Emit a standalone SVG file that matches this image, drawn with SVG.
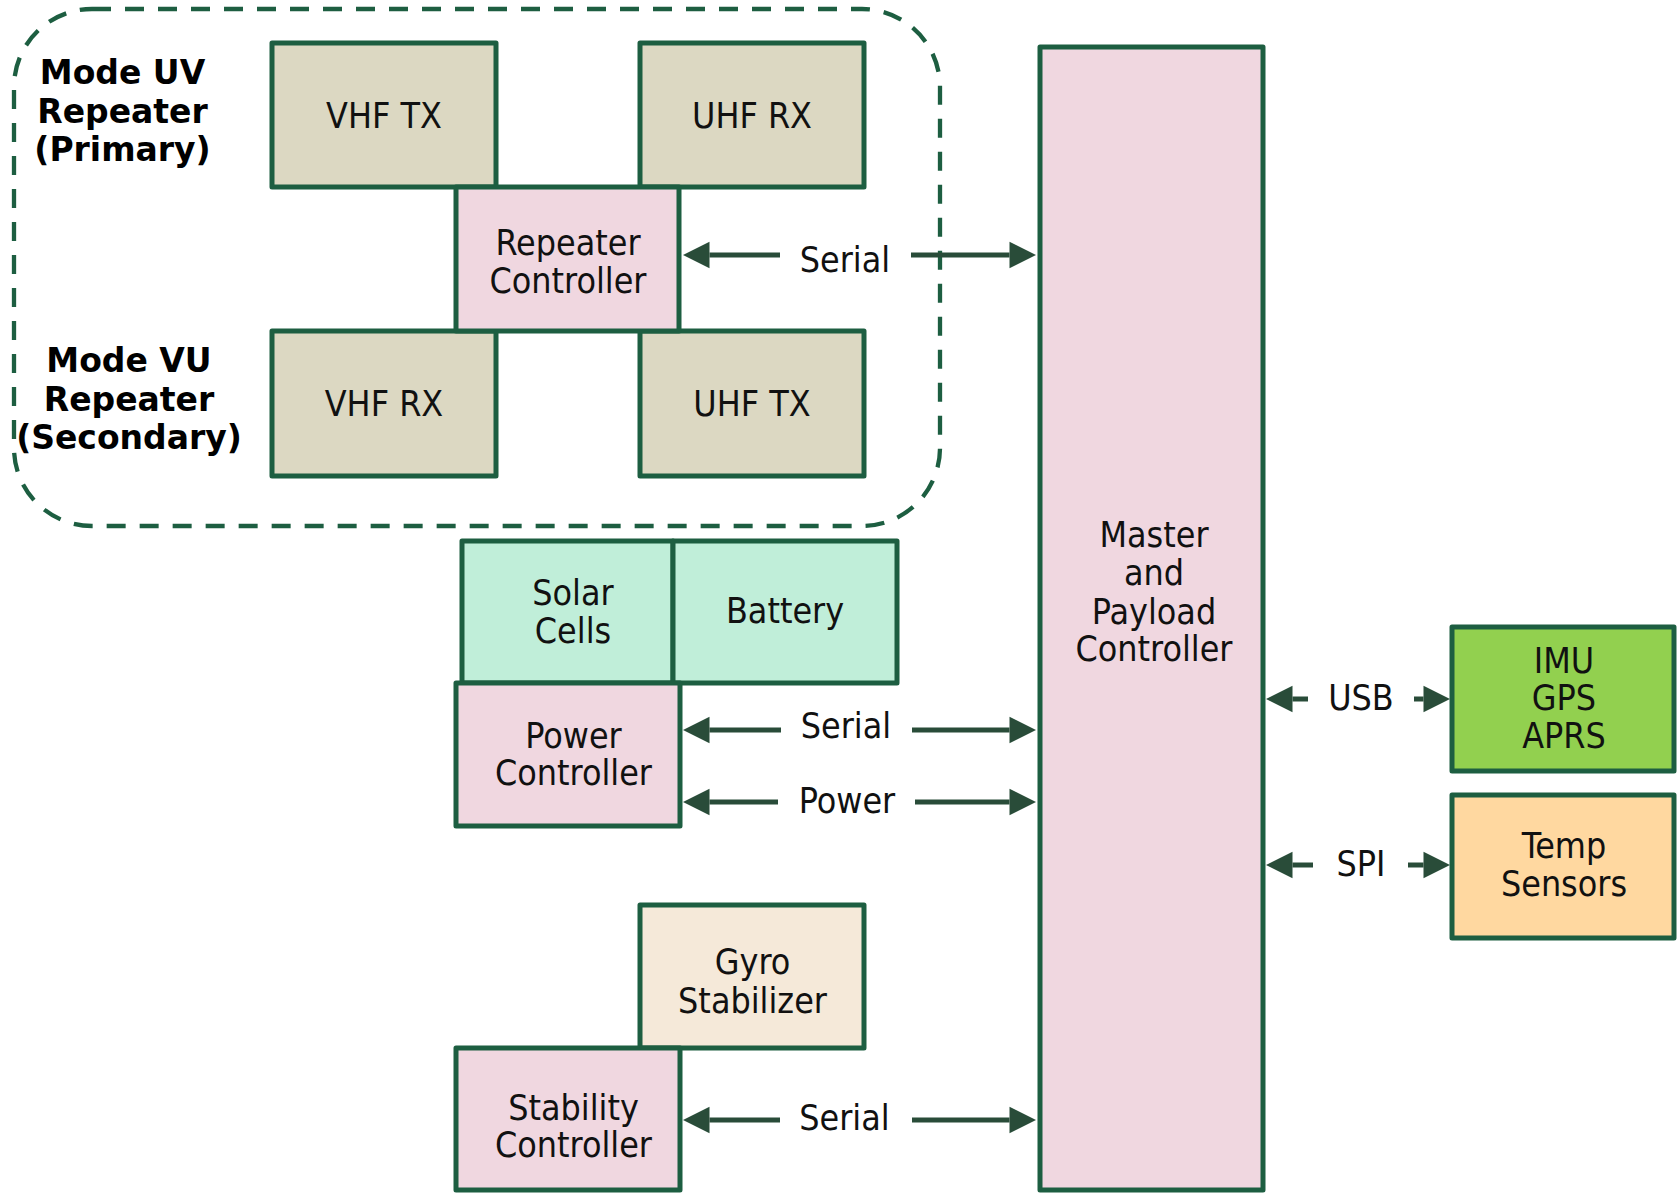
<svg xmlns="http://www.w3.org/2000/svg" width="1677" height="1194" viewBox="0 0 1677 1194">
  <style>
    .box { stroke: #1d5e41; stroke-width: 5; stroke-linejoin: round; }
    .radio { fill: #dcd8c2; }
    .ctrl { fill: #f0d7e0; }
    .pwr { fill: #c0eed9; }
    .sens { fill: #92d04f; }
    .temp { fill: #ffd8a0; }
    .gyro { fill: #f5e9d9; }
    .lbl { font-family: 'DejaVu Sans Condensed', 'DejaVu Sans', sans-serif; font-stretch: condensed; font-size: 35.5px; fill: #111; text-anchor: middle; }
    .mode { font-family: 'DejaVu Sans', 'Liberation Sans', sans-serif; font-weight: bold; font-size: 33px; fill: #000; text-anchor: middle; }
    .link { stroke: #294c39; stroke-width: 5; fill: none; marker-end: url(#head); }
    .group { fill: none; stroke: #1d5e41; stroke-width: 4.3; stroke-dasharray: 19 14; }
  </style>
  <defs>
    <marker id="head" markerUnits="userSpaceOnUse" markerWidth="27" markerHeight="27" refX="0" refY="13.3" orient="auto" overflow="visible">
      <path d="M0,0 L26.5,13.3 L0,26.6 z" fill="#294c39"/>
    </marker>
  </defs>

  <rect id="repeater-group" class="group" x="14" y="9" width="926" height="517" rx="78" ry="78"/>

  <g id="mode-uv">
    <text class="mode" x="122.5" y="83.8">Mode UV</text>
    <text class="mode" x="122.5" y="123">Repeater</text>
    <text class="mode" x="122.5" y="161">(Primary)</text>
  </g>
  <g id="mode-vu">
    <text class="mode" x="129" y="372">Mode VU</text>
    <text class="mode" x="129" y="411">Repeater</text>
    <text class="mode" x="129" y="448.5">(Secondary)</text>
  </g>

  <g id="vhf-tx">
    <rect class="box radio" x="272" y="43" width="224" height="144"/>
    <text class="lbl" x="384" y="127.6">VHF TX</text>
  </g>
  <g id="uhf-rx">
    <rect class="box radio" x="640" y="43" width="224" height="144"/>
    <text class="lbl" x="752" y="127.6">UHF RX</text>
  </g>
  <g id="vhf-rx">
    <rect class="box radio" x="272" y="331" width="224" height="145"/>
    <text class="lbl" x="384" y="415.5">VHF RX</text>
  </g>
  <g id="uhf-tx">
    <rect class="box radio" x="640" y="331" width="224" height="145"/>
    <text class="lbl" x="752" y="415.5">UHF TX</text>
  </g>
  <g id="repeater-controller">
    <rect class="box ctrl" x="456" y="187" width="223" height="144"/>
    <text class="lbl" x="568" y="255">Repeater</text>
    <text class="lbl" x="568" y="292.5">Controller</text>
  </g>

  <g id="solar-cells">
    <rect class="box pwr" x="462" y="541" width="211" height="142"/>
    <text class="lbl" x="573" y="605">Solar</text>
    <text class="lbl" x="573" y="642.7">Cells</text>
  </g>
  <g id="battery">
    <rect class="box pwr" x="673" y="541" width="224" height="142"/>
    <text class="lbl" x="785" y="623.3">Battery</text>
  </g>
  <g id="power-controller">
    <rect class="box ctrl" x="456" y="683" width="224" height="143"/>
    <text class="lbl" x="573.5" y="747.7">Power</text>
    <text class="lbl" x="573.5" y="785">Controller</text>
  </g>

  <g id="gyro-stabilizer">
    <rect class="box gyro" x="640" y="905" width="224" height="143"/>
    <text class="lbl" x="752.5" y="974.3">Gyro</text>
    <text class="lbl" x="752.5" y="1012.5">Stabilizer</text>
  </g>
  <g id="stability-controller">
    <rect class="box ctrl" x="456" y="1048" width="224" height="142"/>
    <text class="lbl" x="573.5" y="1120">Stability</text>
    <text class="lbl" x="573.5" y="1157.3">Controller</text>
  </g>

  <g id="master-controller">
    <rect class="box ctrl" x="1040" y="47" width="223" height="1143"/>
    <text class="lbl" x="1154" y="546.7">Master</text>
    <text class="lbl" x="1154" y="585.3">and</text>
    <text class="lbl" x="1154" y="623.8">Payload</text>
    <text class="lbl" x="1154" y="661">Controller</text>
  </g>

  <g id="imu-gps-aprs">
    <rect class="box sens" x="1452" y="627" width="222" height="144"/>
    <text class="lbl" x="1564" y="672.7">IMU</text>
    <text class="lbl" x="1564" y="710">GPS</text>
    <text class="lbl" x="1564" y="748.3">APRS</text>
  </g>
  <g id="temp-sensors">
    <rect class="box temp" x="1452" y="795" width="222" height="143"/>
    <text class="lbl" x="1564" y="858.3">Temp</text>
    <text class="lbl" x="1564" y="896">Sensors</text>
  </g>

  <g id="connectors">
    <!-- repeater controller serial link -->
    <line class="link" x1="780" y1="255" x2="709.5" y2="255"/>
    <line class="link" x1="911" y1="255" x2="1009.5" y2="255"/>
    <text class="lbl" x="845" y="272.4">Serial</text>
    <!-- power controller serial link -->
    <line class="link" x1="781" y1="730" x2="709.5" y2="730"/>
    <line class="link" x1="912" y1="730" x2="1009.5" y2="730"/>
    <text class="lbl" x="846" y="738.3">Serial</text>
    <!-- power feed -->
    <line class="link" x1="778" y1="802" x2="709.5" y2="802"/>
    <line class="link" x1="915" y1="802" x2="1009.5" y2="802"/>
    <text class="lbl" x="847" y="812.7">Power</text>
    <!-- stability controller serial link -->
    <line class="link" x1="780" y1="1120" x2="709.5" y2="1120"/>
    <line class="link" x1="912" y1="1120" x2="1009.5" y2="1120"/>
    <text class="lbl" x="844.5" y="1130">Serial</text>
    <!-- USB to IMU/GPS/APRS -->
    <line class="link" x1="1308" y1="699" x2="1292.5" y2="699"/>
    <line class="link" x1="1414" y1="699" x2="1423.5" y2="699"/>
    <text class="lbl" x="1361" y="710">USB</text>
    <!-- SPI to temperature sensors -->
    <line class="link" x1="1313" y1="865" x2="1292.5" y2="865"/>
    <line class="link" x1="1408" y1="865" x2="1423.5" y2="865"/>
    <text class="lbl" x="1361" y="876">SPI</text>
  </g>
</svg>
